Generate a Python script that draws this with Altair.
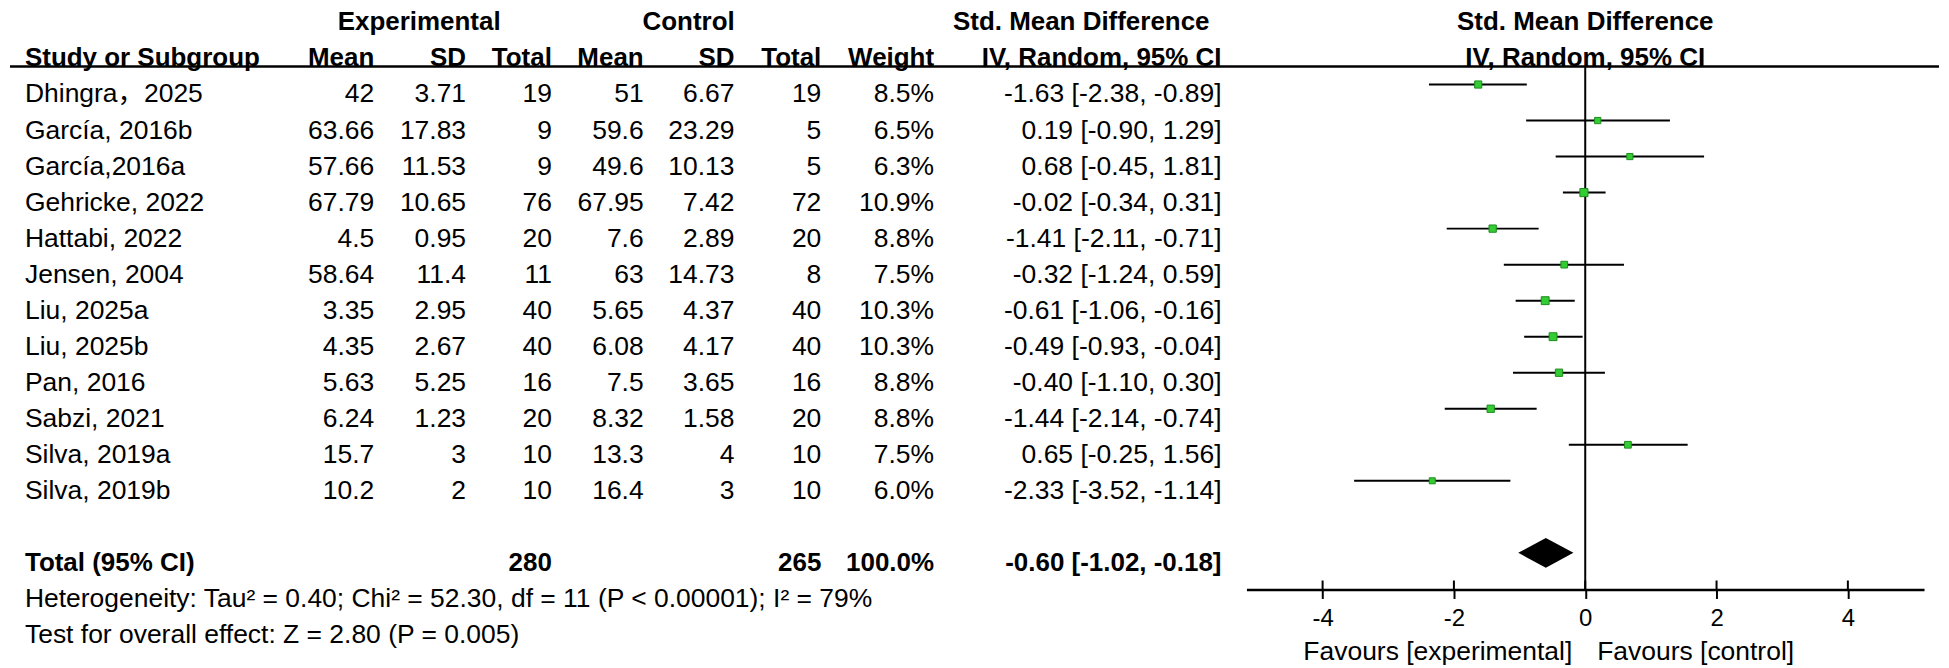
import altair as alt
import pandas as pd

# ---------------- data ----------------
studies = ["Dhingra，2025", "García, 2016b", "García,2016a", "Gehricke, 2022",
           "Hattabi, 2022", "Jensen, 2004", "Liu, 2025a", "Liu, 2025b",
           "Pan, 2016", "Sabzi, 2021", "Silva, 2019a", "Silva, 2019b"]
exp_mean = [42, 63.66, 57.66, 67.79, 4.5, 58.64, 3.35, 4.35, 5.63, 6.24, 15.7, 10.2]
exp_sd = [3.71, 17.83, 11.53, 10.65, 0.95, 11.4, 2.95, 2.67, 5.25, 1.23, 3, 2]
exp_total = [19, 9, 9, 76, 20, 11, 40, 40, 16, 20, 10, 10]
ctrl_mean = [51, 59.6, 49.6, 67.95, 7.6, 63, 5.65, 6.08, 7.5, 8.32, 13.3, 16.4]
ctrl_sd = [6.67, 23.29, 10.13, 7.42, 2.89, 14.73, 4.37, 4.17, 3.65, 1.58, 4, 3]
ctrl_total = [19, 5, 5, 72, 20, 8, 40, 40, 16, 20, 10, 10]
weight = [8.5, 6.5, 6.3, 10.9, 8.8, 7.5, 10.3, 10.3, 8.8, 8.8, 7.5, 6.0]
smd = [-1.63, 0.19, 0.68, -0.02, -1.41, -0.32, -0.61, -0.49, -0.40, -1.44, 0.65, -2.33]
ci_lo = [-2.38, -0.90, -0.45, -0.34, -2.11, -1.24, -1.06, -0.93, -1.10, -2.14, -0.25, -3.52]
ci_hi = [-0.89, 1.29, 1.81, 0.31, -0.71, 0.59, -0.16, -0.04, 0.30, -0.74, 1.56, -1.14]

total_exp = 280
total_ctrl = 265
total_weight = 100.0
total_smd, total_lo, total_hi = -0.60, -1.02, -0.18

heterogeneity = "Heterogeneity: Tau² = 0.40; Chi² = 52.30, df = 11 (P < 0.00001); I² = 79%"
overall = "Test for overall effect: Z = 2.80 (P = 0.005)"
tick_values = [-4, -2, 0, 2, 4]
fav_left = "Favours [experimental]"
fav_right = "Favours [control]"
hdr_exp, hdr_ctrl = "Experimental", "Control"
hdr_smd1, hdr_smd2 = "Std. Mean Difference", "IV, Random, 95% CI"
col_labels = ["Mean", "SD", "Total", "Mean", "SD", "Total", "Weight"]

# ---------------- layout ----------------
FONT = "Liberation Sans, Arial, Noto Sans CJK SC, sans-serif"
W, H = 1933, 579
ROW0, STEP = 81.0, 36.1          # page y of row 0 line, row spacing
R_TOP = (8 - ROW0) / STEP
R_BOT = (587 - ROW0) / STEP
COLX = {"name": 23, "em": 373, "es": 465, "et": 551, "cm": 643, "cs": 734,
        "ct": 821, "w": 934, "ci": 1222}
TOTAL_ROW, HET_ROW, TEST_ROW, FAV_ROW = 13, 14, 15, 15.47

XT = alt.Scale(domain=[8, 8 + W], range=[0, W], nice=False, zero=False)
XF = alt.Scale(domain=[-5.16, 5.16], range=[1247 - 8, 1926 - 8], nice=False, zero=False)

AX = alt.Axis(orient="bottom", values=tick_values, tickSize=9, tickWidth=2,
              tickColor="black", domainColor="black", domainWidth=2.5,
              labelFont=FONT, labelFontSize=24, labelColor="black", labelPadding=8,
              labelExpr="'' + datum.value", grid=False, labelFlush=False,
              labelOverlap=False)


def Y(field):
    return alt.Y(field, type="quantitative",
                 scale=alt.Scale(domain=[R_TOP, R_BOT], reverse=True, nice=False, zero=False),
                 axis=None)


def XFE(field):
    return alt.X(field, type="quantitative", scale=XF, axis=AX, title=None)


# ---------------- table text ----------------
recs = []


def add(x, row, text, kind):
    recs.append({"x": x, "row": row, "text": text, "kind": kind})


add(418, -2, hdr_exp, "CB")
add(688, -2, hdr_ctrl, "CB")
add(1210, -2, hdr_smd1, "RB")
add(COLX["name"], -1, "Study or Subgroup", "LB")
for key, lab in zip(["em", "es", "et", "cm", "cs", "ct", "w"], col_labels):
    add(COLX[key], -1, lab, "RB")
add(COLX["ci"], -1, hdr_smd2, "RB")
for i in range(len(studies)):
    add(COLX["name"], i, studies[i], "L")
    add(COLX["em"], i, f"{exp_mean[i]:g}", "R")
    add(COLX["es"], i, f"{exp_sd[i]:g}", "R")
    add(COLX["et"], i, str(exp_total[i]), "R")
    add(COLX["cm"], i, f"{ctrl_mean[i]:g}", "R")
    add(COLX["cs"], i, f"{ctrl_sd[i]:g}", "R")
    add(COLX["ct"], i, str(ctrl_total[i]), "R")
    add(COLX["w"], i, f"{weight[i]:.1f}%", "R")
    add(COLX["ci"], i, f"{smd[i]:.2f} [{ci_lo[i]:.2f}, {ci_hi[i]:.2f}]", "R")
add(COLX["name"], TOTAL_ROW, "Total (95% CI)", "LB")
add(COLX["et"], TOTAL_ROW, str(total_exp), "RB")
add(COLX["ct"], TOTAL_ROW, str(total_ctrl), "RB")
add(COLX["w"], TOTAL_ROW, f"{total_weight:.1f}%", "RB")
add(COLX["ci"], TOTAL_ROW, f"{total_smd:.2f} [{total_lo:.2f}, {total_hi:.2f}]", "RB")
add(COLX["name"], HET_ROW, heterogeneity, "L")
add(COLX["name"], TEST_ROW, overall, "L")
table_df = pd.DataFrame(recs)


def text_layer(kind, align, bold, size):
    return alt.Chart(table_df).transform_filter(alt.datum.kind == kind).mark_text(
        align=align, baseline="middle", dy=10, font=FONT, fontSize=size,
        fontWeight="bold" if bold else "normal", color="#000000"
    ).encode(x=alt.X("x:Q", scale=XT, axis=None), y=Y("row"), text="text:N")


header_rule = alt.Chart(pd.DataFrame({"x": [8], "x2": [8 + W], "y": [-0.5]})).mark_rule(
    color="black", strokeWidth=2.5
).encode(x=alt.X("x:Q", scale=XT, axis=None), x2="x2:Q", y=Y("y"))

table = alt.layer(
    text_layer("L", "left", False, 26.5),
    text_layer("LB", "left", True, 26),
    text_layer("R", "right", False, 26.5),
    text_layer("RB", "right", True, 26),
    text_layer("CB", "center", True, 26),
    header_rule,
)

# ---------------- forest plot ----------------
fdf = pd.DataFrame({"row": list(range(len(studies))), "smd": smd, "lo": ci_lo,
                    "hi": ci_hi, "weight": weight})

ci_rules = alt.Chart(fdf).mark_rule(color="black", strokeWidth=2).encode(
    x=XFE("lo"), x2="hi:Q", y=Y("row"))

zero_line = alt.Chart(pd.DataFrame({"x": [0], "y": [-0.5], "y2": [R_BOT]})).mark_rule(
    color="black", strokeWidth=2
).encode(x=XFE("x"), y=Y("y"), y2="y2:Q")

squares = alt.Chart(fdf).mark_square(
    filled=True, fill="#33cc33", stroke="#1e8c1e", strokeWidth=1, opacity=1
).encode(
    x=XFE("smd"), y=Y("row"),
    size=alt.Size("weight:Q", scale=alt.Scale(domain=[0, 10.9], range=[0, 66]), legend=None))

DH = 15 / STEP
diamond_df = pd.DataFrame({"x": [total_lo, total_smd, total_hi],
                           "y": [TOTAL_ROW, TOTAL_ROW - DH, TOTAL_ROW],
                           "y2": [TOTAL_ROW, TOTAL_ROW + DH, TOTAL_ROW]})
diamond = alt.Chart(diamond_df).mark_area(color="black", orient="vertical", opacity=1).encode(
    x=XFE("x"), y=Y("y"), y2="y2:Q")

tick_df = pd.DataFrame({"x": tick_values, "y": [R_BOT - 9 / STEP] * len(tick_values),
                        "y2": [R_BOT] * len(tick_values)})
tick_up = alt.Chart(tick_df).mark_rule(color="black", strokeWidth=2).encode(
    x=XFE("x"), y=Y("y"), y2="y2:Q")

fh_df = pd.DataFrame({"x": [0, 0], "row": [-2, -1], "text": [hdr_smd1, hdr_smd2]})
forest_headers = alt.Chart(fh_df).mark_text(
    align="center", baseline="middle", dy=10, font=FONT, fontSize=26,
    fontWeight="bold", color="#000000"
).encode(x=XFE("x"), y=Y("row"), text="text:N")

fav_df = pd.DataFrame({"x": [0, 0], "row": [FAV_ROW, FAV_ROW],
                       "text": [fav_left, fav_right], "side": ["L", "R"]})
fav_l = alt.Chart(fav_df).transform_filter(alt.datum.side == "L").mark_text(
    align="right", baseline="middle", dy=10, dx=-13, font=FONT, fontSize=26.5, color="#000000"
).encode(x=XFE("x"), y=Y("row"), text="text:N")
fav_r = alt.Chart(fav_df).transform_filter(alt.datum.side == "R").mark_text(
    align="left", baseline="middle", dy=10, dx=12, font=FONT, fontSize=26.5, color="#000000"
).encode(x=XFE("x"), y=Y("row"), text="text:N")

forest = alt.layer(ci_rules, zero_line, squares, diamond, tick_up, forest_headers, fav_l, fav_r)

chart = alt.layer(table, forest).resolve_scale(x="independent").properties(
    width=W, height=H, padding=0
).configure_view(stroke=None)

chart.save("out.html", embed_options={"renderer": "svg", "actions": False})
